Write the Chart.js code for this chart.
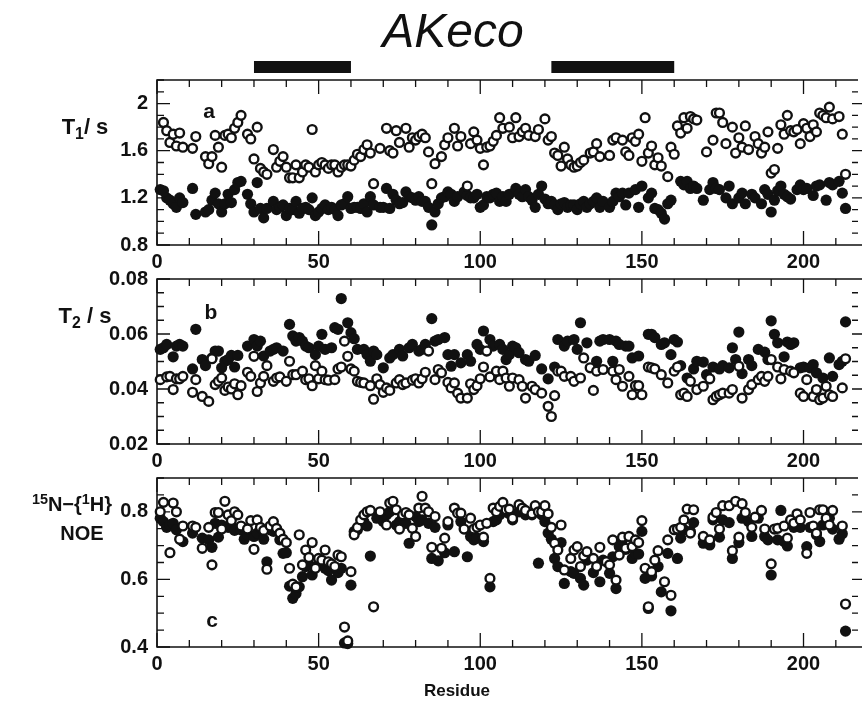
<!DOCTYPE html>
<html><head><meta charset="utf-8">
<script src="https://cdn.jsdelivr.net/npm/chart.js@4.4.1/dist/chart.umd.min.js"></script>
<style>
html,body{margin:0;padding:0;background:#fff;}
#wrap{position:relative;width:863px;height:704px;overflow:hidden;font-family:"Liberation Sans",Arial,sans-serif;color:#111;}
canvas{position:absolute;left:0;}
.lbl{position:absolute;font-weight:bold;white-space:nowrap;line-height:1;transform:translate(-50%,-50%);}
.sub{font-size:0.72em;vertical-align:-0.28em;}
.sup{font-size:0.72em;vertical-align:0.45em;}
</style></head><body>
<div id="wrap">
  <canvas id="ca" width="863" height="275" style="top:0"></canvas>
  <canvas id="cb" width="863" height="208" style="top:262px"></canvas>
  <canvas id="cc" width="863" height="242" style="top:462px"></canvas>
  <div class="lbl" style="left:453px;top:31px;font-weight:normal;font-style:italic;font-size:48px;">AKeco</div>
  <div class="lbl" style="left:85px;top:129px;font-size:22px;">T<span class="sub">1</span>/ s</div>
  <div class="lbl" style="left:85px;top:318px;font-size:22px;">T<span class="sub">2</span> / s</div>
  <div class="lbl" style="left:72px;top:503px;font-size:20px;"><span class="sup">15</span>N−{<span class="sup">1</span>H}</div>
  <div class="lbl" style="left:82px;top:533px;font-size:20px;">NOE</div>
  <div class="lbl" style="left:209px;top:110px;font-size:21px;">a</div>
  <div class="lbl" style="left:211px;top:311px;font-size:21px;">b</div>
  <div class="lbl" style="left:212px;top:619px;font-size:21px;">c</div>
  <div class="lbl" style="left:457px;top:690px;font-size:17px;">Residue</div>
</div>
<script>
// ---------------- data ----------------
const xTickLabels = [0, 50, 100, 150, 200];
const t1TickLabels = [0.8, 1.2, 1.6, 2];
const t2TickLabels = [0.02, 0.04, 0.06, 0.08];
const noeTickLabels = [0.4, 0.6, 0.8];
const barRanges = [[30, 60], [122, 160]];

// T1 (s): [residue, value]
const t1Open = [[2,1.84],[3,1.77],[4,1.67],[5,1.74],[6,1.64],[7,1.75],[8,1.63],[11,1.62],[12,1.72],[15,1.55],[16,1.49],[17,1.55],[18,1.73],[19,1.63],[20,1.46],[21,1.73],[22,1.74],[23,1.71],[24,1.79],[25,1.84],[26,1.90],[28,1.74],[29,1.70],[30,1.53],[31,1.80],[32,1.45],[33,1.42],[34,1.40],[36,1.61],[37,1.46],[38,1.51],[39,1.55],[40,1.46],[41,1.37],[42,1.37],[43,1.48],[44,1.37],[45,1.42],[46,1.48],[47,1.46],[48,1.78],[49,1.42],[50,1.48],[51,1.50],[52,1.48],[53,1.45],[54,1.48],[55,1.48],[56,1.42],[57,1.46],[58,1.48],[59,1.48],[60,1.47],[61,1.52],[62,1.57],[63,1.55],[64,1.61],[65,1.65],[66,1.58],[67,1.32],[69,1.62],[71,1.79],[72,1.60],[73,1.58],[74,1.77],[75,1.67],[77,1.79],[78,1.63],[79,1.71],[80,1.69],[81,1.72],[82,1.74],[83,1.71],[84,1.59],[85,1.32],[86,1.49],[88,1.55],[89,1.65],[90,1.71],[92,1.79],[93,1.64],[94,1.72],[96,1.30],[97,1.66],[98,1.76],[99,1.69],[100,1.62],[101,1.48],[102,1.63],[103,1.64],[104,1.68],[105,1.73],[106,1.88],[107,1.79],[109,1.80],[110,1.71],[111,1.88],[112,1.72],[113,1.76],[114,1.79],[115,1.73],[117,1.72],[118,1.78],[120,1.87],[121,1.69],[122,1.72],[123,1.58],[124,1.56],[125,1.47],[126,1.63],[127,1.53],[128,1.48],[129,1.46],[130,1.47],[131,1.50],[132,1.52],[134,1.58],[135,1.59],[136,1.66],[137,1.55],[140,1.56],[141,1.69],[142,1.71],[144,1.69],[145,1.59],[146,1.56],[147,1.71],[148,1.68],[149,1.74],[150,1.51],[151,1.88],[152,1.58],[153,1.64],[154,1.48],[155,1.54],[156,1.47],[158,1.38],[159,1.63],[160,1.57],[161,1.81],[162,1.75],[163,1.88],[164,1.79],[165,1.89],[166,1.87],[167,1.86],[170,1.59],[172,1.69],[173,1.92],[174,1.92],[175,1.84],[176,1.66],[178,1.80],[179,1.58],[180,1.71],[181,1.63],[182,1.81],[183,1.61],[185,1.72],[186,1.66],[187,1.58],[188,1.63],[189,1.76],[190,1.41],[191,1.44],[192,1.62],[193,1.82],[194,1.74],[195,1.90],[196,1.77],[197,1.76],[198,1.78],[199,1.66],[200,1.83],[201,1.79],[202,1.72],[203,1.82],[204,1.76],[205,1.92],[206,1.90],[207,1.88],[208,1.97],[209,1.87],[211,1.89],[212,1.74],[213,1.40]];
const t1Filled = [[1,1.27],[2,1.26],[3,1.20],[4,1.18],[5,1.15],[6,1.12],[7,1.20],[8,1.16],[11,1.28],[12,1.06],[15,1.08],[16,1.10],[17,1.18],[18,1.24],[19,1.15],[20,1.08],[21,1.15],[22,1.23],[23,1.16],[24,1.27],[25,1.33],[26,1.34],[28,1.23],[29,1.15],[30,1.08],[31,1.33],[32,1.11],[33,1.03],[34,1.11],[36,1.17],[37,1.10],[38,1.12],[39,1.14],[40,1.05],[41,1.11],[42,1.10],[43,1.17],[44,1.07],[45,1.11],[46,1.12],[47,1.10],[48,1.20],[49,1.05],[50,1.08],[51,1.11],[52,1.14],[53,1.10],[54,1.12],[55,1.10],[56,1.05],[57,1.14],[58,1.15],[59,1.21],[60,1.11],[61,1.12],[62,1.12],[63,1.11],[64,1.15],[65,1.08],[66,1.21],[67,1.14],[69,1.12],[70,1.12],[71,1.28],[72,1.11],[73,1.23],[74,1.18],[75,1.15],[76,1.16],[77,1.25],[78,1.21],[79,1.20],[80,1.18],[81,1.21],[82,1.17],[83,1.17],[84,1.12],[85,0.97],[86,1.08],[87,1.15],[88,1.20],[89,1.21],[90,1.25],[91,1.23],[92,1.17],[93,1.21],[95,1.25],[96,1.22],[97,1.20],[98,1.20],[99,1.23],[100,1.12],[101,1.14],[102,1.21],[103,1.20],[104,1.23],[105,1.24],[106,1.17],[107,1.21],[108,1.17],[109,1.23],[111,1.28],[112,1.23],[113,1.21],[114,1.27],[115,1.21],[116,1.18],[117,1.12],[118,1.23],[119,1.30],[120,1.19],[121,1.15],[122,1.17],[123,1.14],[124,1.10],[125,1.15],[126,1.16],[127,1.12],[128,1.14],[129,1.14],[130,1.10],[131,1.15],[132,1.17],[133,1.12],[134,1.15],[135,1.17],[136,1.20],[137,1.12],[138,1.17],[140,1.12],[141,1.17],[142,1.24],[143,1.21],[144,1.24],[145,1.14],[146,1.24],[148,1.27],[149,1.12],[150,1.30],[152,1.20],[153,1.24],[154,1.11],[155,1.10],[156,1.07],[157,1.02],[158,1.15],[159,1.18],[162,1.34],[163,1.31],[164,1.34],[165,1.28],[166,1.30],[167,1.28],[169,1.18],[171,1.27],[172,1.33],[173,1.28],[174,1.27],[176,1.20],[177,1.30],[178,1.15],[180,1.20],[181,1.24],[182,1.15],[184,1.23],[185,1.20],[187,1.15],[188,1.27],[189,1.23],[190,1.08],[191,1.18],[192,1.26],[193,1.30],[194,1.23],[195,1.21],[196,1.19],[198,1.27],[199,1.31],[200,1.27],[201,1.28],[203,1.22],[204,1.30],[205,1.31],[207,1.18],[208,1.33],[209,1.31],[211,1.34],[212,1.24],[213,1.11]];

// T2 (s): [residue, value]
const t2Open = [[1,0.0434],[3,0.0444],[4,0.0446],[5,0.0398],[6,0.0437],[7,0.0437],[8,0.0446],[11,0.0388],[12,0.0434],[14,0.0373],[16,0.0355],[17,0.0510],[18,0.0416],[19,0.0428],[20,0.0440],[21,0.0395],[22,0.0407],[23,0.0400],[24,0.0419],[25,0.0379],[26,0.0412],[28,0.0461],[29,0.0446],[30,0.0519],[31,0.0391],[32,0.0422],[33,0.0446],[34,0.0485],[36,0.0428],[37,0.0440],[38,0.0444],[40,0.0428],[41,0.0501],[42,0.0452],[43,0.0452],[45,0.0465],[46,0.0434],[47,0.0437],[48,0.0412],[49,0.0485],[50,0.0437],[51,0.0465],[52,0.0434],[53,0.0432],[55,0.0434],[56,0.0473],[57,0.0480],[58,0.0574],[59,0.0519],[60,0.0473],[61,0.0465],[62,0.0428],[63,0.0424],[64,0.0422],[66,0.0412],[67,0.0363],[68,0.0437],[69,0.0416],[70,0.0388],[71,0.0404],[72,0.0395],[74,0.0422],[75,0.0434],[76,0.0416],[77,0.0422],[79,0.0432],[80,0.0437],[81,0.0422],[82,0.0437],[83,0.0461],[84,0.0538],[86,0.0434],[87,0.0471],[88,0.0459],[90,0.0424],[91,0.0404],[92,0.0422],[93,0.0385],[94,0.0367],[96,0.0367],[97,0.0419],[98,0.0398],[99,0.0412],[100,0.0437],[101,0.0480],[102,0.0538],[103,0.0444],[105,0.0465],[106,0.0434],[107,0.0465],[108,0.0440],[109,0.0410],[110,0.0440],[112,0.0434],[113,0.0410],[114,0.0367],[116,0.0410],[117,0.0398],[119,0.0385],[121,0.0337],[122,0.0300],[123,0.0376],[124,0.0465],[125,0.0465],[126,0.0446],[128,0.0446],[129,0.0428],[131,0.0440],[132,0.0513],[134,0.0477],[135,0.0395],[136,0.0465],[138,0.0471],[141,0.0465],[142,0.0434],[143,0.0471],[144,0.0410],[146,0.0446],[147,0.0379],[148,0.0412],[149,0.0412],[150,0.0379],[152,0.0480],[153,0.0477],[154,0.0473],[156,0.0452],[158,0.0422],[160,0.0465],[161,0.0480],[162,0.0379],[163,0.0385],[164,0.0373],[165,0.0428],[167,0.0398],[169,0.0410],[171,0.0437],[172,0.0361],[173,0.0373],[174,0.0379],[175,0.0385],[177,0.0385],[178,0.0398],[180,0.0483],[181,0.0367],[183,0.0398],[184,0.0416],[186,0.0434],[187,0.0446],[188,0.0428],[189,0.0446],[190,0.0507],[192,0.0480],[193,0.0437],[194,0.0471],[196,0.0465],[197,0.0459],[199,0.0385],[200,0.0373],[201,0.0434],[203,0.0373],[204,0.0398],[205,0.0361],[206,0.0367],[207,0.0410],[208,0.0379],[209,0.0373],[212,0.0404],[213,0.0510]];
const t2Filled = [[1,0.0544],[2,0.0550],[3,0.0562],[5,0.0517],[6,0.0556],[7,0.0562],[8,0.0556],[11,0.0473],[12,0.0617],[14,0.0507],[15,0.0485],[17,0.0513],[18,0.0538],[19,0.0538],[20,0.0477],[21,0.0501],[22,0.0507],[23,0.0522],[24,0.0480],[25,0.0522],[28,0.0556],[30,0.0580],[31,0.0556],[32,0.0574],[33,0.0520],[35,0.0538],[36,0.0544],[37,0.0550],[39,0.0538],[41,0.0635],[42,0.0593],[43,0.0574],[44,0.0587],[45,0.0574],[46,0.0556],[47,0.0550],[49,0.0525],[50,0.0556],[51,0.0599],[52,0.0544],[54,0.0550],[55,0.0623],[56,0.0617],[57,0.0729],[59,0.0641],[60,0.0605],[61,0.0583],[62,0.0544],[64,0.0544],[65,0.0525],[66,0.0501],[67,0.0538],[68,0.0525],[70,0.0477],[72,0.0513],[73,0.0525],[75,0.0544],[76,0.0520],[78,0.0550],[79,0.0562],[81,0.0538],[82,0.0544],[83,0.0562],[85,0.0656],[86,0.0574],[87,0.0580],[89,0.0587],[90,0.0525],[91,0.0483],[92,0.0525],[94,0.0495],[96,0.0525],[97,0.0501],[99,0.0562],[100,0.0544],[101,0.0611],[103,0.0580],[104,0.0556],[106,0.0562],[107,0.0544],[108,0.0507],[109,0.0525],[110,0.0556],[111,0.0550],[112,0.0532],[114,0.0507],[115,0.0501],[117,0.0522],[119,0.0473],[121,0.0437],[123,0.0480],[124,0.0580],[126,0.0556],[127,0.0574],[129,0.0580],[130,0.0544],[131,0.0641],[133,0.0568],[136,0.0501],[137,0.0574],[138,0.0580],[140,0.0580],[141,0.0501],[142,0.0574],[143,0.0562],[145,0.0556],[146,0.0556],[147,0.0513],[149,0.0520],[152,0.0599],[153,0.0599],[154,0.0587],[156,0.0562],[157,0.0568],[159,0.0525],[160,0.0580],[161,0.0571],[162,0.0485],[164,0.0440],[166,0.0473],[167,0.0501],[169,0.0498],[170,0.0452],[172,0.0480],[174,0.0473],[175,0.0485],[177,0.0477],[178,0.0550],[179,0.0507],[180,0.0607],[181,0.0456],[183,0.0507],[184,0.0485],[186,0.0544],[188,0.0534],[189,0.0507],[190,0.0648],[191,0.0599],[192,0.0568],[194,0.0517],[195,0.0571],[196,0.0562],[197,0.0568],[199,0.0477],[200,0.0480],[202,0.0477],[203,0.0489],[204,0.0459],[206,0.0440],[208,0.0513],[209,0.0446],[211,0.0489],[212,0.0501],[213,0.0644]];

// 15N-{1H} NOE: [residue, value]
const noeOpen = [[1,0.800],[2,0.828],[4,0.679],[5,0.826],[6,0.800],[7,0.719],[8,0.758],[11,0.758],[12,0.754],[14,0.692],[16,0.754],[17,0.643],[18,0.798],[19,0.798],[20,0.749],[21,0.831],[22,0.791],[23,0.774],[24,0.800],[25,0.791],[26,0.758],[28,0.749],[29,0.774],[30,0.689],[31,0.776],[32,0.754],[33,0.745],[34,0.630],[35,0.758],[36,0.771],[37,0.751],[38,0.737],[39,0.719],[40,0.709],[41,0.633],[42,0.586],[43,0.578],[44,0.732],[45,0.643],[46,0.687],[47,0.665],[48,0.709],[49,0.633],[50,0.662],[51,0.657],[52,0.687],[53,0.652],[54,0.646],[55,0.638],[56,0.672],[57,0.667],[58,0.459],[59,0.418],[60,0.623],[61,0.732],[62,0.754],[63,0.776],[64,0.791],[65,0.800],[66,0.804],[67,0.519],[69,0.800],[71,0.761],[72,0.826],[73,0.831],[74,0.806],[75,0.749],[76,0.791],[77,0.798],[78,0.791],[79,0.751],[80,0.727],[81,0.811],[82,0.846],[83,0.811],[84,0.800],[85,0.695],[86,0.786],[88,0.692],[89,0.722],[90,0.771],[92,0.811],[93,0.796],[94,0.796],[95,0.749],[97,0.781],[98,0.749],[99,0.754],[100,0.761],[101,0.725],[102,0.766],[103,0.603],[104,0.811],[105,0.800],[106,0.816],[107,0.828],[108,0.806],[109,0.808],[110,0.781],[112,0.821],[113,0.811],[114,0.804],[116,0.794],[117,0.818],[118,0.800],[119,0.800],[120,0.818],[121,0.794],[122,0.754],[123,0.707],[124,0.687],[125,0.761],[126,0.628],[128,0.662],[129,0.687],[130,0.697],[131,0.638],[132,0.669],[133,0.682],[135,0.662],[136,0.638],[137,0.695],[139,0.652],[140,0.643],[141,0.717],[142,0.598],[143,0.672],[144,0.725],[145,0.692],[146,0.727],[147,0.697],[148,0.717],[149,0.709],[150,0.774],[151,0.633],[152,0.519],[153,0.623],[154,0.657],[155,0.685],[157,0.593],[158,0.717],[159,0.553],[160,0.747],[161,0.749],[162,0.754],[163,0.776],[164,0.808],[165,0.737],[166,0.806],[169,0.727],[171,0.717],[172,0.784],[173,0.798],[174,0.749],[175,0.818],[177,0.818],[178,0.685],[179,0.831],[180,0.725],[181,0.824],[182,0.798],[184,0.754],[185,0.784],[187,0.804],[188,0.749],[190,0.646],[191,0.749],[192,0.751],[194,0.758],[195,0.722],[196,0.776],[197,0.766],[198,0.794],[199,0.776],[201,0.677],[202,0.798],[203,0.758],[204,0.737],[205,0.806],[206,0.806],[207,0.781],[208,0.761],[209,0.804],[212,0.758],[213,0.527]];
const noeFilled = [[1,0.781],[2,0.771],[3,0.754],[4,0.761],[5,0.766],[6,0.747],[8,0.712],[11,0.737],[14,0.722],[16,0.717],[17,0.695],[18,0.766],[19,0.725],[20,0.761],[22,0.754],[23,0.758],[24,0.745],[26,0.747],[27,0.719],[28,0.732],[30,0.727],[31,0.737],[33,0.719],[34,0.652],[35,0.747],[36,0.742],[38,0.717],[39,0.677],[40,0.679],[41,0.580],[42,0.544],[43,0.558],[44,0.578],[45,0.608],[46,0.638],[47,0.643],[48,0.613],[49,0.638],[51,0.643],[52,0.633],[53,0.626],[54,0.598],[56,0.620],[57,0.633],[58,0.412],[59,0.410],[60,0.583],[61,0.742],[62,0.747],[63,0.761],[64,0.771],[65,0.758],[66,0.669],[68,0.781],[70,0.771],[71,0.791],[72,0.800],[74,0.761],[75,0.771],[76,0.784],[77,0.766],[78,0.707],[80,0.786],[81,0.771],[82,0.776],[84,0.766],[85,0.662],[86,0.754],[87,0.655],[89,0.679],[90,0.761],[92,0.682],[94,0.771],[96,0.667],[97,0.727],[98,0.717],[99,0.722],[101,0.712],[103,0.578],[104,0.771],[105,0.776],[106,0.791],[107,0.804],[108,0.800],[109,0.794],[110,0.776],[112,0.800],[114,0.791],[116,0.791],[118,0.648],[119,0.791],[120,0.771],[121,0.737],[122,0.719],[123,0.662],[124,0.638],[125,0.709],[126,0.588],[128,0.623],[129,0.618],[131,0.603],[132,0.583],[133,0.657],[135,0.620],[137,0.593],[138,0.657],[140,0.618],[141,0.667],[142,0.573],[143,0.697],[144,0.717],[145,0.689],[147,0.662],[148,0.677],[149,0.675],[150,0.742],[151,0.603],[152,0.514],[153,0.610],[155,0.638],[156,0.563],[158,0.677],[159,0.507],[161,0.662],[162,0.722],[163,0.747],[165,0.742],[166,0.768],[169,0.707],[171,0.702],[172,0.776],[174,0.725],[175,0.776],[177,0.768],[178,0.662],[180,0.709],[181,0.781],[183,0.771],[184,0.727],[186,0.781],[188,0.727],[189,0.717],[190,0.613],[192,0.717],[193,0.804],[194,0.712],[195,0.699],[197,0.754],[199,0.754],[201,0.697],[202,0.754],[204,0.732],[205,0.712],[206,0.761],[208,0.781],[209,0.749],[211,0.719],[212,0.735],[213,0.447]];

// ---------------- drawing ----------------
const INK = '#111';
const FONT = {family: '"Liberation Sans", Arial, sans-serif', size: 20, weight: 'bold'};

const framePlugin = {
  id: 'frame',
  beforeDatasetsDraw(chart, args, o) {
    const {ctx, chartArea: {left, right, top, bottom}, scales: {x, y}} = chart;
    ctx.save();
    ctx.strokeStyle = INK;
    ctx.lineWidth = 1.6;
    ctx.beginPath();
    ctx.moveTo(right, top); ctx.lineTo(left, top); ctx.lineTo(left, bottom); ctx.lineTo(right, bottom);
    ctx.stroke();
    ctx.lineWidth = 1.3;
    ctx.beginPath();
    const nx = Math.round(x.max / o.xMinor);
    for (let i = 0; i <= nx; i++) {
      const px = x.getPixelForValue(i * o.xMinor);
      const L = (i % o.xMajorEvery === 0) ? 14 : 7;
      ctx.moveTo(px, bottom); ctx.lineTo(px, bottom - L);
      ctx.moveTo(px, top); ctx.lineTo(px, top + L);
    }
    const ny = Math.round((y.max - y.min) / o.yMinor);
    for (let i = 0; i <= ny; i++) {
      const py = y.getPixelForValue(y.min + i * o.yMinor);
      const major = i % o.yMajorEvery === 0;
      const L = major ? 13 : 7;
      ctx.moveTo(left, py); ctx.lineTo(left + L, py);
      ctx.moveTo(right, py); ctx.lineTo(right + (major ? 10 : 6), py);
    }
    ctx.stroke();
    ctx.restore();
  },
  afterDraw(chart, args, o) {
    if (!o.bars) return;
    const {ctx, scales: {x}} = chart;
    ctx.save();
    ctx.fillStyle = INK;
    o.bars.forEach(([a, b]) => {
      const x1 = x.getPixelForValue(a), x2 = x.getPixelForValue(b);
      ctx.fillRect(x1, 61, x2 - x1, 12);
    });
    ctx.restore();
  }
};

function toPts(arr) { return arr.map(([x, y]) => ({x, y})); }

function makePanel(id, cfg) {
  return new Chart(document.getElementById(id), {
    type: 'scatter',
    data: {datasets: [
      {data: toPts(cfg.open), pointRadius: 4.4, pointBorderWidth: 2.4, pointBackgroundColor: '#fff', pointBorderColor: INK, clip: false},
      {data: toPts(cfg.filled), pointRadius: 5.6, pointBorderWidth: 0, pointBackgroundColor: INK, pointBorderColor: INK, clip: false}
    ]},
    options: {
      responsive: false, animation: false, events: [],
      layout: {padding: {top: cfg.padTop, right: 11, left: 0, bottom: 0}},
      plugins: {legend: {display: false}, tooltip: {enabled: false},
        frame: {xMinor: 10, xMajorEvery: 5, yMinor: cfg.yMinor, yMajorEvery: 4, bars: cfg.bars}},
      scales: {
        x: {type: 'linear', min: 0, max: 215,
          grid: {display: false, drawTicks: false}, border: {display: false},
          afterBuildTicks: s => { s.ticks = xTickLabels.map(v => ({value: v})); },
          afterFit: s => { s.height = cfg.xh; s.paddingLeft = 0; s.paddingRight = 0; },
          ticks: {padding: 5, font: FONT, color: INK, maxRotation: 0, autoSkip: false, callback: v => String(v)}},
        y: {type: 'linear', min: cfg.ymin, max: cfg.ymax,
          grid: {display: false, drawTicks: false}, border: {display: false},
          afterBuildTicks: s => { s.ticks = cfg.yLabels.map(v => ({value: v})); },
          afterFit: s => { s.width = 157; s.paddingTop = 0; s.paddingBottom = 0; },
          ticks: {padding: 9, font: FONT, color: INK, autoSkip: false, callback: v => String(v)}}
      }
    },
    plugins: [framePlugin]
  });
}

makePanel('ca', {open: t1Open, filled: t1Filled, ymin: 0.8, ymax: 2.2, yMinor: 0.1, yLabels: t1TickLabels, padTop: 80, xh: 30, bars: barRanges});
makePanel('cb', {open: t2Open, filled: t2Filled, ymin: 0.02, ymax: 0.08, yMinor: 0.005, yLabels: t2TickLabels, padTop: 17, xh: 26});
makePanel('cc', {open: noeOpen, filled: noeFilled, ymin: 0.4, ymax: 0.9, yMinor: 0.05, yLabels: noeTickLabels, padTop: 16, xh: 57});
</script>
</body></html>
